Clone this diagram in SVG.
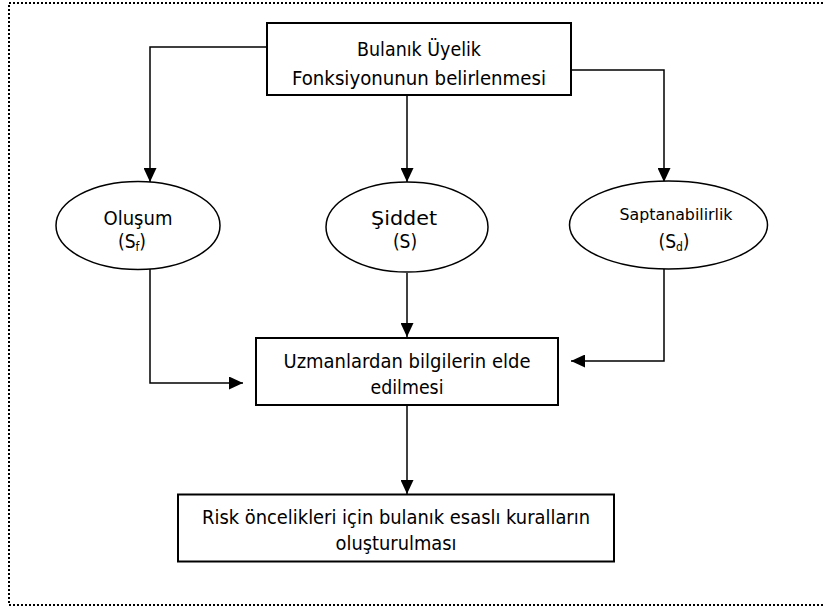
<svg xmlns="http://www.w3.org/2000/svg" width="824" height="612" viewBox="0 0 824 612">
  <defs>
    <marker id="arrow" viewBox="0 0 14 13" refX="14" refY="6.5" markerWidth="14" markerHeight="13" markerUnits="userSpaceOnUse" orient="auto">
      <path d="M0,0 L14,6.5 L0,13 z" fill="#000"/>
    </marker>
    <style>
      .frame { fill: none; stroke: #000; stroke-width: 2; stroke-dasharray: 2 2; }
      .box { fill: #fff; stroke: #000; stroke-width: 2; }
      .oval { fill: #fff; stroke: #000; stroke-width: 1.5; }
      .link { fill: none; stroke: #000; stroke-width: 1.5; marker-end: url(#arrow); }
      text { font-family: "DejaVu Sans Condensed", "DejaVu Sans", sans-serif; font-size: 19px; fill: #000; text-anchor: middle; }
      .small { font-size: 16px; }
      .sub { font-size: 12px; }
    </style>
  </defs>

  <rect class="frame" x="9" y="3" width="830" height="602"/>

  <g id="connectors">
    <polyline class="link" points="267,47 150,47 150,182"/>
    <polyline class="link" points="407,95 407,182"/>
    <polyline class="link" points="571,70 664,70 664,182"/>
    <polyline class="link" points="150,269 150,383 243,383"/>
    <polyline class="link" points="407,273 407,337"/>
    <polyline class="link" points="664,269 664,361 571,361"/>
    <polyline class="link" points="407,405 407,494"/>
  </g>

  <g id="uyelik">
    <rect class="box" x="267" y="23" width="304" height="72"/>
    <text x="419" y="56" textLength="124" lengthAdjust="spacingAndGlyphs">Bulanık Üyelik</text>
    <text x="419" y="85" textLength="254" lengthAdjust="spacingAndGlyphs">Fonksiyonunun  belirlenmesi</text>
  </g>

  <g id="olusum">
    <ellipse class="oval" cx="138" cy="225.5" rx="82" ry="44"/>
    <text x="138" y="225" textLength="69" lengthAdjust="spacingAndGlyphs">Oluşum</text>
    <text x="132" y="248">(S<tspan class="sub" dy="3">f</tspan><tspan dy="-3">)</tspan></text>
  </g>

  <g id="siddet">
    <ellipse class="oval" cx="407" cy="227" rx="81" ry="45"/>
    <text x="404" y="225" textLength="66" lengthAdjust="spacingAndGlyphs">Şiddet</text>
    <text x="405" y="248">(S)</text>
  </g>

  <g id="saptanabilirlik">
    <ellipse class="oval" cx="668.5" cy="225" rx="99" ry="44"/>
    <text class="small" x="676" y="220" textLength="113" lengthAdjust="spacingAndGlyphs">Saptanabilirlik</text>
    <text x="674" y="248">(S<tspan class="sub" dy="3">d</tspan><tspan dy="-3">)</tspan></text>
  </g>

  <g id="uzmanlar">
    <rect class="box" x="256" y="338" width="302" height="67"/>
    <text x="407" y="368" textLength="247" lengthAdjust="spacingAndGlyphs">Uzmanlardan bilgilerin elde</text>
    <text x="407" y="394" textLength="73" lengthAdjust="spacingAndGlyphs">edilmesi</text>
  </g>

  <g id="kurallar">
    <rect class="box" x="178" y="494.5" width="436" height="67"/>
    <text x="396" y="524" textLength="388" lengthAdjust="spacingAndGlyphs">Risk öncelikleri için bulanık esaslı kuralların</text>
    <text x="396" y="550" textLength="121" lengthAdjust="spacingAndGlyphs">oluşturulması</text>
  </g>
</svg>
